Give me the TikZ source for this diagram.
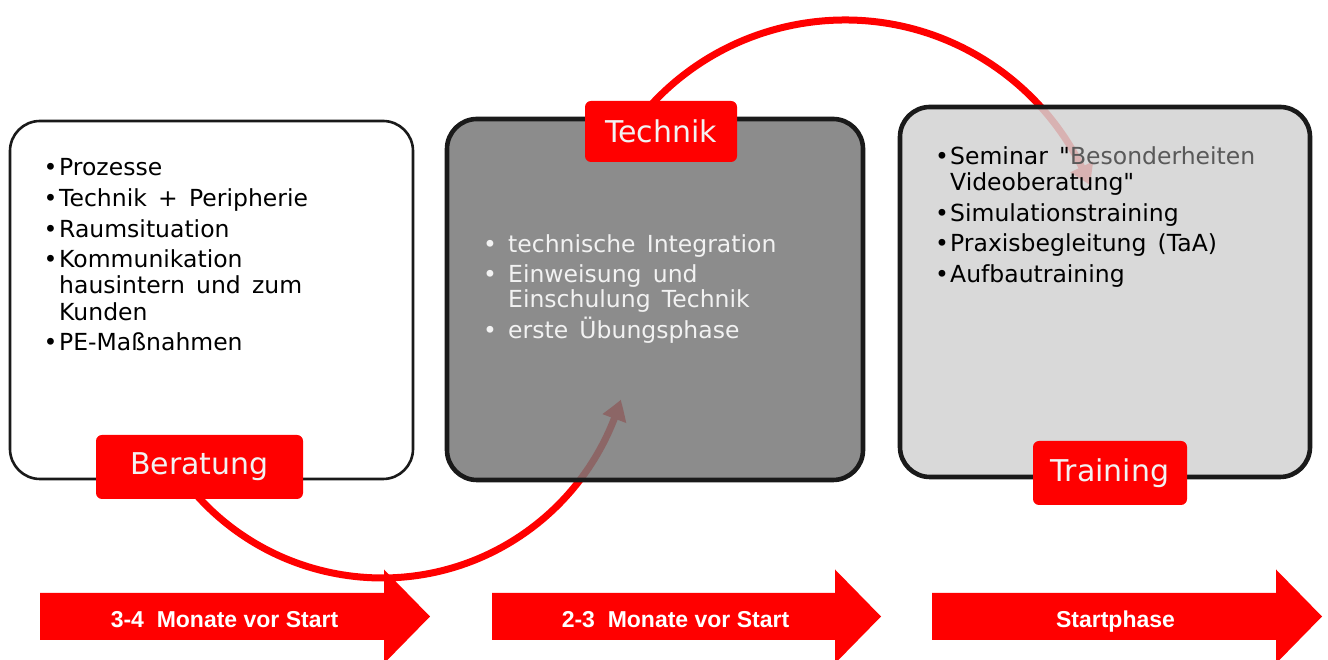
\documentclass[tikz,border=0pt]{standalone}
\usepackage{fontspec}
\setmainfont{DejaVu Sans}
\newfontfamily\qfont{DejaVu Sans}
\newfontfamily\arialf{Liberation Sans}
\usetikzlibrary{arrows.meta,bending}
\definecolor{pred}{HTML}{FF0000}
\definecolor{boxline}{HTML}{1A1A1A}
\definecolor{fillB}{RGB}{120,120,120}
\definecolor{fillC}{RGB}{210,210,210}
\definecolor{txtlight}{HTML}{F2F2F2}
\definecolor{txtgray}{HTML}{595959}
\newcommand{\sq}{{\qfont\symbol{34}}}
\newcommand{\widesp}{\spaceskip=0.48em\relax}
\begin{document}
\begin{tikzpicture}[x=1pt,y=1pt,
  bigbox/.style={rectangle, rounded corners=30pt, inner sep=0pt, draw=boxline},
  tag/.style={rectangle, rounded corners=6pt, fill=pred, inner sep=0pt,
    text=txtlight, font=\fontsize{30}{30}\selectfont},
  line/.style={anchor=base west, inner sep=0pt, font=\fontsize{23.5}{26}\selectfont,
    execute at begin node=\widesp},
  bul/.style={anchor=base, inner sep=0pt, font=\fontsize{23.5}{26}\selectfont},
  swoop/.style={draw=pred, line width=7pt, -{Triangle[length=20pt,width=24pt,bend]}},
  timearrow/.style={fill=pred},
  timetext/.style={anchor=base, inner sep=0pt, text=white,
    font=\arialf\bfseries\fontsize{23}{23}\selectfont}
]
\useasboundingbox (0,0) rectangle (1328,660);

% connectors (drawn first, seen through the boxes)
\coordinate (a1s) at (176.8,190.0);
\coordinate (a2s) at (630.1,529.3);
\draw[swoop] (a1s) arc[start angle=214.5, end angle=343.5, radius=249];
\draw[swoop] (a2s) arc[start angle=144.5, end angle=22, radius=264];

% boxes
\node[bigbox, fill=white, line width=2.6pt, minimum width=403, minimum height=358] (box1) at (211.5,360) {};
\node[bigbox, fill=fillB, fill opacity=0.85, draw opacity=1, line width=4.6pt, minimum width=416, minimum height=361] (box2) at (655,360.5) {};
\node[bigbox, fill=fillC, fill opacity=0.85, draw opacity=1, line width=4.6pt, minimum width=410, minimum height=370] (box3) at (1105,368) {};

% box 1 text
\foreach \n/\y in {1/484,2/453,3/422,4/392,5/309}
  \node[bul] (b1\n) at (50.5,\y) {•};
\node[line] (t1a) at (59,484) {Prozesse};
\node[line] (t1b) at (59,453) {Technik + Peripherie};
\node[line] (t1c) at (59,422) {Raumsituation};
\node[line] (t1d) at (59,392) {Kommunikation};
\node[line] (t1e) at (59,366) {hausintern und zum};
\node[line] (t1f) at (59,339) {Kunden};
\node[line] (t1g) at (59,309) {PE-Maßnahmen};

% box 2 text
\foreach \n/\y in {1/407,2/377,3/321}
  \node[bul, text=txtlight] (b2\n) at (490,\y) {•};
\node[line, text=txtlight] (t2a) at (508,407) {technische Integration};
\node[line, text=txtlight] (t2b) at (508,377) {Einweisung und};
\node[line, text=txtlight] (t2c) at (508,352) {Einschulung Technik};
\node[line, text=txtlight] (t2d) at (508,321) {erste Übungsphase};

% box 3 text
\foreach \n/\y in {1/495,2/438,3/408,4/377}
  \node[bul] (b3\n) at (942,\y) {•};
\node[line] (t3a) at (950,495) {Seminar \sq\textcolor{txtgray}{Besonderheiten}};
\node[line] (t3b) at (950,469) {Videoberatung\sq};
\node[line] (t3c) at (950,438) {Simulationstraining};
\node[line] (t3d) at (950,408) {Praxisbegleitung (TaA)};
\node[line] (t3e) at (950,377) {Aufbautraining};

% tags
\node[tag, minimum width=207, minimum height=64] (beratung) at (199.5,193) {Beratung};
\node[tag, minimum width=152, minimum height=61] (technik) at (661,528.5) {Technik};
\node[tag, minimum width=154, minimum height=64] (training) at (1110,187) {Training};

% time arrows
\fill[timearrow] (40,20) -- (384,20) -- (384,-3.5) -- (430,43.5) -- (384,90.5) -- (384,67) -- (40,67) -- cycle;
\fill[timearrow] (492,20) -- (835,20) -- (835,-3.5) -- (881,43.5) -- (835,90.5) -- (835,67) -- (492,67) -- cycle;
\fill[timearrow] (932,20) -- (1276,20) -- (1276,-3.5) -- (1322,43.5) -- (1276,90.5) -- (1276,67) -- (932,67) -- cycle;
\node[timetext] (p1) at (224.5,32) {3-4\ \ Monate vor Start};
\node[timetext] (p2) at (675.5,32) {2-3\ \ Monate vor Start};
\node[timetext] (p3) at (1115.5,32) {Startphase};
\end{tikzpicture}
\end{document}
